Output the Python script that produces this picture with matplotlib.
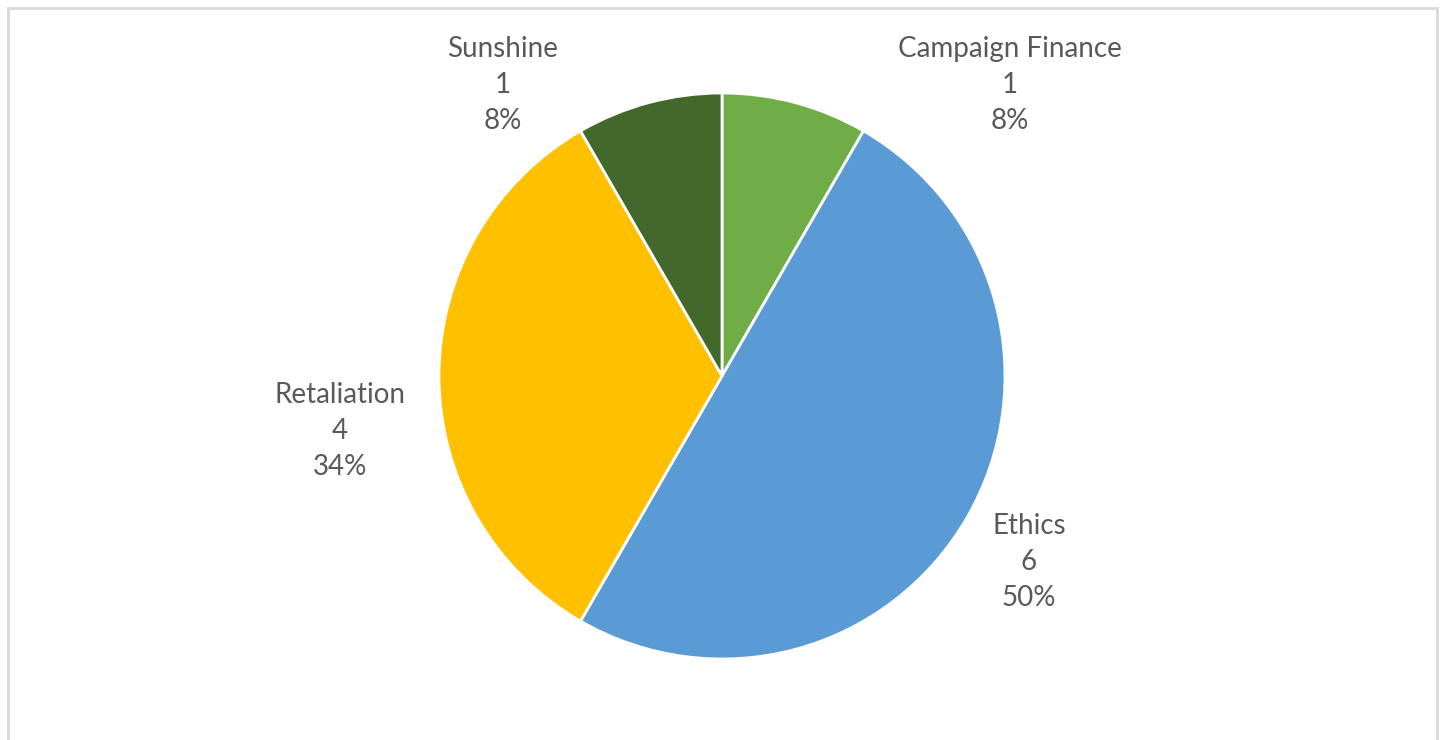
import matplotlib
matplotlib.use("Agg")
import matplotlib.pyplot as plt
from matplotlib.patches import Rectangle

# slice data, clockwise from 12 o'clock
categories = ["Campaign Finance", "Ethics", "Retaliation", "Sunshine"]
counts = [1, 6, 4, 1]
pct_labels = ["8%", "50%", "34%", "8%"]
colors = ["#70AD47", "#5B9BD5", "#FFC000", "#43682B"]

# label centres in figure pixels (x, y from top)
label_pos = [(1010, 85), (1029, 562), (340, 431), (503, 85)]

W, H = 1442, 740
fig = plt.figure(figsize=(W / 100, H / 100), dpi=100)
fig.patch.set_facecolor("white")

# light grey chart frame
fig.add_artist(Rectangle((8 / W, -0.01), (1437 - 8) / W, 1 - 8 / H + 0.01,
                         transform=fig.transFigure, fill=False,
                         edgecolor="#D9D9D9", linewidth=2))

cx, cy, r = 722, 376, 283
ax = fig.add_axes([(cx - r) / W, (H - cy - r) / H, 2 * r / W, 2 * r / H])
ax.pie(counts, colors=colors, startangle=90, counterclock=False, radius=1,
       wedgeprops=dict(edgecolor="white", linewidth=2))
ax.set_xlim(-1, 1)
ax.set_ylim(-1, 1)
ax.set_aspect("auto")
ax.axis("off")

for name, n, pct, (px, py) in zip(categories, counts, pct_labels, label_pos):
    fig.text(px / W, 1 - py / H, f"{name}\n{n}\n{pct}", ha="center", va="center",
             fontsize=20, family="Lato", color="#595959", linespacing=1.49)

fig.savefig("out.png", dpi=100, facecolor="white")
